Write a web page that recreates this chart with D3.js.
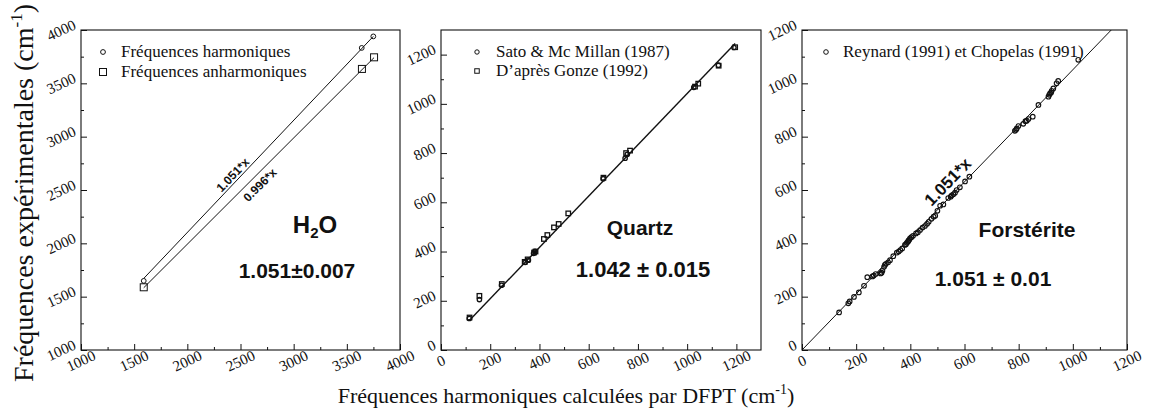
<!DOCTYPE html>
<html>
<head>
<meta charset="utf-8">
<script src="https://cdn.jsdelivr.net/npm/d3@7"></script>
<style>
  body { margin: 0; background: #fff; }
  svg { display: block; }
</style>
</head>
<body>
<svg id="chart" width="1149" height="416"></svg>
<script>
// ---- H2O: harmonic / anharmonic experimental frequencies vs DFPT ----
const h2oHarmDFPT   = [1590, 3640, 3749];
const h2oHarmExp    = [1648, 3832, 3940];
const h2oAnharmDFPT = [1590, 3642, 3756];
const h2oAnharmExp  = [1588, 3635, 3744];
const h2oSlopes     = [1.051, 0.996];
const h2oTicks      = [1000, 1500, 2000, 2500, 3000, 3500, 4000];
const h2oMinor      = [1250, 1750, 2250, 2750, 3250, 3750];

// ---- Quartz ----
const quartzSatoDFPT  = [115, 156, 246, 342, 355, 376, 382, 659, 748, 757, 1027, 1127, 1190];
const quartzSatoExp   = [128, 205, 263, 356, 365, 392, 401, 696, 779, 795, 1067, 1157, 1229];
const quartzGonzeDFPT = [116, 156, 247, 340, 352, 378, 384, 418, 432, 459, 478, 517, 660, 752, 768, 1032, 1045, 1128, 1195];
const quartzGonzeExp  = [132, 220, 268, 358, 368, 396, 400, 451, 467, 498, 512, 555, 700, 800, 810, 1070, 1082, 1155, 1230];
const quartzSlope     = 1.042;
const quartzTicks     = [0, 200, 400, 600, 800, 1000, 1200];
const quartzMinor     = [100, 300, 500, 700, 900, 1100];

// ---- Forsterite ----
const forstDFPT = [137, 171, 176, 192, 210, 229, 241, 260, 265, 272, 290, 294, 297, 303, 306, 310, 318, 325,
                   337, 350, 357, 363, 370, 380, 384, 387, 391, 393, 396, 399, 404, 410, 421, 428, 436, 445,
                   454, 462, 468, 478, 486, 492, 500, 510, 522, 540, 549, 553, 559, 565, 571, 583, 602, 618,
                   786, 790, 793, 799, 817, 825, 830, 836, 852, 873, 910, 913, 916, 920, 922, 928, 940, 946, 1020];
const forstExp  = [141, 175, 182, 199, 216, 241, 273, 276, 279, 285, 287, 290, 297, 312, 319, 323, 329, 337,
                   352, 365, 369, 375, 381, 394, 397, 402, 406, 410, 413, 419, 423, 428, 437, 442, 450, 459,
                   465, 473, 481, 492, 500, 503, 522, 541, 546, 570, 575, 580, 584, 590, 600, 610, 632, 650,
                   822, 826, 831, 840, 848, 858, 860, 866, 875, 919, 950, 957, 962, 966, 972, 981, 1000, 1009, 1088];
const forstSlope = 1.051;
const forstTicks = [0, 200, 400, 600, 800, 1000, 1200];
const forstMinor = [100, 300, 500, 700, 900, 1100];

// ---- Texts ----
const h2oLegend    = ["Fréquences harmoniques", "Fréquences anharmoniques"];
const quartzLegend = ["Sato & Mc Millan (1987)", "D\u2019après Gonze (1992)"];
const forstLegend  = ["Reynard (1991) et Chopelas (1991)"];
const fitLabels    = ["1.051*x", "0.996*x", "1.051*x"];
const ratioLabels  = ["1.051±0.007", "1.042 ± 0.015", "1.051 ± 0.01"];

const svg = d3.select("#chart");
const TOP = 30, BOTTOM = 350;
const serif = "Liberation Serif";
const sans = "Liberation Sans";
const TICK_ANGLE = -25;

function zip(a, b) { return a.map((v, i) => [v, b[i]]); }

function makePanel(left, right, domain, ticks, minor) {
  const g = svg.append("g");
  const x = d3.scaleLinear().domain(domain).range([left, right]);
  const y = d3.scaleLinear().domain(domain).range([BOTTOM, TOP]);

  // tick marks pointing inward; labels are drawn separately below
  const marks = (axis, vals, len) => axis.tickValues(vals).tickSizeInner(-len).tickSizeOuter(0).tickFormat("");
  [[minor, 3], [ticks, 6]].forEach(([vals, len]) => {
    g.append("g").attr("transform", `translate(0,${BOTTOM})`)
      .call(marks(d3.axisBottom(x), vals, len))
      .call(a => a.select(".domain").remove());
    g.append("g").attr("transform", `translate(${left},0)`)
      .call(marks(d3.axisLeft(y), vals, len))
      .call(a => a.select(".domain").remove());
  });
  g.selectAll(".tick line").attr("stroke", "#111");

  // slanted tick labels
  g.append("g").selectAll("text").data(ticks).join("text")
    .attr("transform", d => `translate(${x(d)},${BOTTOM + 11}) rotate(${TICK_ANGLE})`)
    .attr("text-anchor", "middle")
    .attr("dominant-baseline", "central")
    .style("font-family", serif).style("font-size", "15px").attr("fill", "#111")
    .text(d => d);
  g.append("g").selectAll("text").data(ticks).join("text")
    .attr("transform", d => `translate(${left - 4},${y(d) - 1.5}) rotate(${TICK_ANGLE})`)
    .attr("text-anchor", "end")
    .style("font-family", serif).style("font-size", "15px").attr("fill", "#111")
    .text(d => d);

  // frame
  g.append("rect")
    .attr("x", left).attr("y", TOP)
    .attr("width", right - left).attr("height", BOTTOM - TOP)
    .attr("fill", "none").attr("stroke", "#111").attr("stroke-width", 1.1);

  return { g, x, y, left, right };
}

function fitLine(p, slope, x0, x1, width) {
  p.g.append("line")
    .attr("x1", p.x(x0)).attr("y1", p.y(slope * x0))
    .attr("x2", p.x(x1)).attr("y2", p.y(slope * x1))
    .attr("stroke", "#111").attr("stroke-width", width);
}

function circles(p, pts, r, sw) {
  p.g.append("g").selectAll("circle").data(pts).join("circle")
    .attr("cx", d => p.x(d[0])).attr("cy", d => p.y(d[1])).attr("r", r)
    .attr("fill", "none").attr("stroke", "#111").attr("stroke-width", sw);
}

function squares(p, pts, s, sw) {
  p.g.append("g").selectAll("rect").data(pts).join("rect")
    .attr("x", d => p.x(d[0]) - s / 2).attr("y", d => p.y(d[1]) - s / 2)
    .attr("width", s).attr("height", s)
    .attr("fill", "none").attr("stroke", "#111").attr("stroke-width", sw);
}

function legendMarker(p, cx, cy, kind, size) {
  if (kind === "circle") {
    p.g.append("circle").attr("cx", cx).attr("cy", cy).attr("r", size)
      .attr("fill", "none").attr("stroke", "#111").attr("stroke-width", 1);
  } else {
    p.g.append("rect").attr("x", cx - size / 2).attr("y", cy - size / 2)
      .attr("width", size).attr("height", size)
      .attr("fill", "none").attr("stroke", "#111").attr("stroke-width", 1);
  }
}

function legendText(p, tx, ty, text) {
  p.g.append("text").attr("x", tx).attr("y", ty)
    .style("font-family", serif).style("font-size", "17px").attr("fill", "#111")
    .text(text);
}

function boldText(p, x, y, size, text) {
  return p.g.append("text").attr("x", x).attr("y", y)
    .attr("text-anchor", "middle")
    .style("font-family", sans).style("font-weight", "bold")
    .style("font-size", size + "px").attr("fill", "#111")
    .text(text);
}

function slopeText(p, dx, dy, slope, size, text) {
  const px = p.x(dx), py = p.y(dy);
  const ang = Math.atan2(p.y(slope * 1000) - p.y(0), p.x(1000) - p.x(0)) * 180 / Math.PI;
  p.g.append("text")
    .attr("transform", `translate(${px},${py}) rotate(${ang})`)
    .attr("text-anchor", "middle").attr("dominant-baseline", "central")
    .style("font-family", sans).style("font-weight", "bold")
    .style("font-size", size + "px").attr("fill", "#111")
    .text(text);
}

// ---------- Panel 1 : H2O ----------
const p1 = makePanel(81, 400, [1000, 4000], h2oTicks, h2oMinor);
fitLine(p1, h2oSlopes[0], d3.min(h2oHarmDFPT), d3.max(h2oHarmDFPT), 1);
fitLine(p1, h2oSlopes[1], d3.min(h2oAnharmDFPT), d3.max(h2oAnharmDFPT), 1);
circles(p1, zip(h2oHarmDFPT, h2oHarmExp), 2.4, 1);
squares(p1, zip(h2oAnharmDFPT, h2oAnharmExp), 7, 1);
legendMarker(p1, 103, 52, "circle", 2.4);
legendMarker(p1, 103, 72, "square", 7);
legendText(p1, 121, 57, h2oLegend[0]);
legendText(p1, 121, 77, h2oLegend[1]);
slopeText(p1, 2429, 2641, h2oSlopes[0], 12, fitLabels[0]);
slopeText(p1, 2683, 2547, h2oSlopes[1], 12, fitLabels[1]);
{
  const t = boldText(p1, 315, 233, 24, "H");
  t.append("tspan").style("font-size", "15px").attr("dy", 5).text("2");
  t.append("tspan").attr("dy", -5).text("O");
}
boldText(p1, 297, 278, 21, ratioLabels[0]);

// ---------- Panel 2 : Quartz ----------
const p2 = makePanel(441, 761, [0, 1300], quartzTicks, quartzMinor);
fitLine(p2, quartzSlope, d3.min(quartzSatoDFPT), d3.max(quartzGonzeDFPT), 1.4);
circles(p2, zip(quartzSatoDFPT, quartzSatoExp), 2.2, 1.3);
squares(p2, zip(quartzGonzeDFPT, quartzGonzeExp), 4.5, 1.3);
legendMarker(p2, 477, 52, "circle", 2.2);
legendMarker(p2, 477, 71, "square", 4.5);
legendText(p2, 496, 57, quartzLegend[0]);
legendText(p2, 496, 76, quartzLegend[1]);
boldText(p2, 640, 235, 21, "Quartz");
boldText(p2, 643, 277, 22, ratioLabels[1]);

// ---------- Panel 3 : Forsterite ----------
const p3 = makePanel(802, 1127, [0, 1200], forstTicks, forstMinor);
fitLine(p3, forstSlope, 0, 1200 / forstSlope, 1);
circles(p3, zip(forstDFPT, forstExp), 2.3, 1.1);
legendMarker(p3, 826, 52, "circle", 2.3);
legendText(p3, 843, 57, forstLegend[0]);
slopeText(p3, 539, 630, forstSlope, 17, fitLabels[2]);
boldText(p3, 1027, 237, 21, "Forstérite");
boldText(p3, 993, 286, 21, ratioLabels[2]);

// ---------- Shared axis titles ----------
const xt = svg.append("text")
  .attr("x", 566).attr("y", 403)
  .attr("text-anchor", "middle")
  .style("font-family", serif).style("font-size", "22px").attr("fill", "#111")
  .text("Fréquences harmoniques calculées par DFPT (cm");
xt.append("tspan").style("font-size", "14px").attr("dy", -9).text("-1");
xt.append("tspan").attr("dy", 9).text(")");

const yt = svg.append("text")
  .attr("transform", "translate(33,193) rotate(-90)")
  .attr("text-anchor", "middle")
  .style("font-family", serif).style("font-size", "28px").attr("fill", "#111")
  .text("Fréquences expérimentales (cm");
yt.append("tspan").style("font-size", "17px").attr("dy", -11).text("-1");
yt.append("tspan").attr("dy", 11).text(")");
</script>
</body>
</html>
